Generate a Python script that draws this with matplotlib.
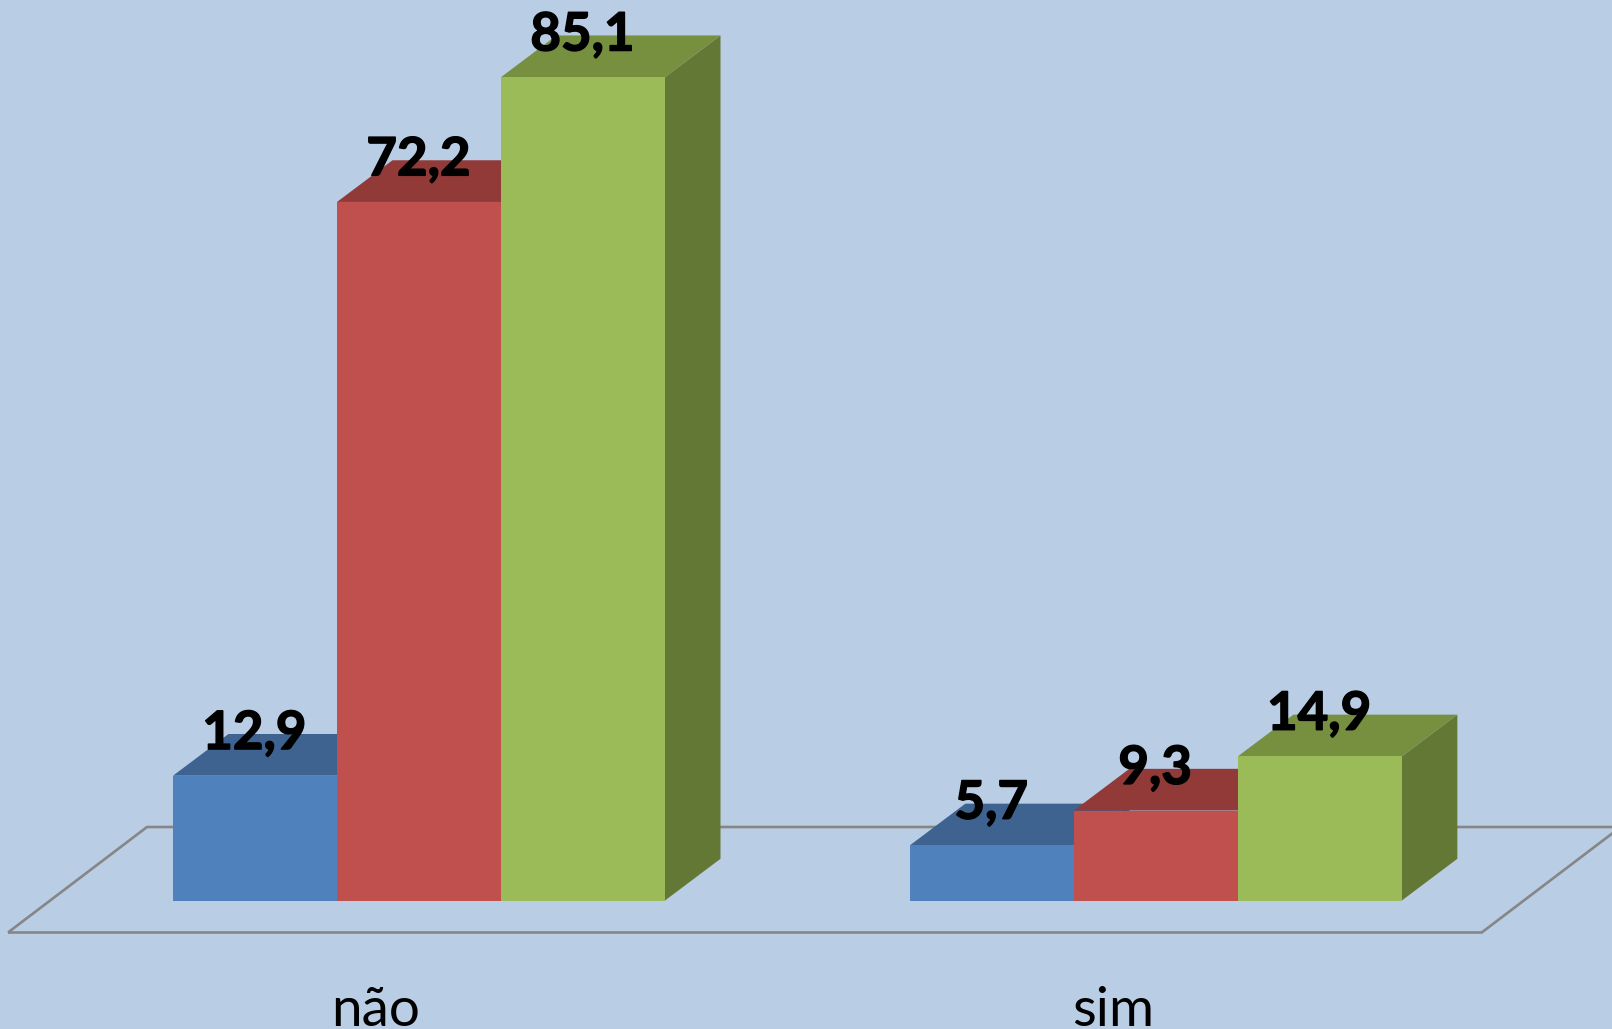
import matplotlib
matplotlib.use("Agg")
import matplotlib.pyplot as plt
import matplotlib.patheffects as pe
from matplotlib.patches import Polygon

categories = ["não", "sim"]
series_blue = [12.9, 5.7]
series_red = [72.2, 9.3]
series_green = [85.1, 14.9]
value_labels = {"blue": ["12,9", "5,7"], "red": ["72,2", "9,3"], "green": ["85,1", "14,9"]}

BG = "#B9CDE5"
STYLES = [
    ("blue", series_blue, "#4F81BD", "#3E6391", "#385D8A"),
    ("red", series_red, "#C0504D", "#913A38", "#7F302E"),
    ("green", series_green, "#9BBB59", "#769040", "#647835"),
]

W, H = 1612, 1029
PX_X = 164.0   # pixels per bar width
PX_Y = 9.675   # pixels per value unit
X0, Y0 = 173, 900.5  # pixel of x=0, y=0
DX = 55.5 / PX_X
DY = 41.7 / PX_Y
GROUP_STEP = 4.493

plt.rcParams["font.family"] = ["Lato", "DejaVu Sans"]
fig = plt.figure(figsize=(W / 100, H / 100), dpi=100, facecolor=BG)
ax = fig.add_axes([0, 0, 1, 1])
ax.set_xlim(-X0 / PX_X, (W - X0) / PX_X)
ax.set_ylim(-(H - Y0) / PX_Y, Y0 / PX_Y)
ax.axis("off")

# floor
fl = (8.0 - X0) / PX_X
fr = (1481.7 - X0) / PX_X
fy = -(932.5 - Y0) / PX_Y
bdx = 139 / PX_X
bdy = 105.5 / PX_Y
ax.add_patch(Polygon([(fl, fy), (fr, fy), (fr + bdx, fy + bdy), (fl + bdx, fy + bdy)],
                     closed=True, fill=False, edgecolor="#868686", linewidth=1.9,
                     joinstyle="miter", zorder=1))

z = 2
for g, cat in enumerate(categories):
    left = g * GROUP_STEP
    for s, (name, vals, front, top, side) in enumerate(STYLES):
        x = left + s
        v = vals[g]
        ax.add_patch(Polygon([(x + 1, 0), (x + 1 + DX, DY), (x + 1 + DX, v + DY), (x + 1, v)],
                             closed=True, facecolor=side, edgecolor="none", zorder=z))
        ax.add_patch(Polygon([(x, v), (x + 1, v), (x + 1 + DX, v + DY), (x + DX, v + DY)],
                             closed=True, facecolor=top, edgecolor="none", zorder=z))
        ax.bar(x + 0.5, v, width=1, color=front, edgecolor="none", zorder=z + 0.5)
        z += 1

for g, cat in enumerate(categories):
    left = g * GROUP_STEP
    for s, (name, vals, *_rest) in enumerate(STYLES):
        ax.annotate(value_labels[name][g], xy=(left + s + 0.5, vals[g]), xytext=(-0.5, 19.2),
                    textcoords="offset points", ha="center", va="baseline",
                    fontsize=38, fontweight="bold", color="black", zorder=50,
                    path_effects=[pe.withStroke(linewidth=1.1, foreground="black")])
    ax.annotate(cat, xy=(left + 1.5, 0), xytext=(-31, -90),
                textcoords="offset points", ha="center", va="baseline",
                fontsize=39.5, color="black", zorder=50)

fig.savefig("out.png", dpi=100, facecolor=BG)
